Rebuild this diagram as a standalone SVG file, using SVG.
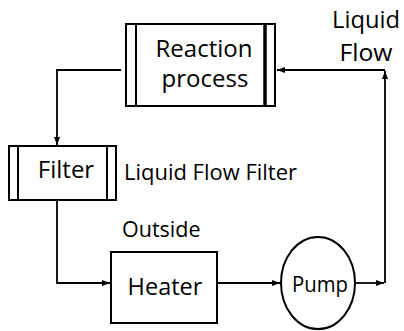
<svg xmlns="http://www.w3.org/2000/svg" width="404" height="331" viewBox="0 0 404 331">
<defs>
<style>
.box{fill:#fff;stroke:#000;stroke-width:2}
.ln{fill:none;stroke:#000;stroke-width:2}
.thick{fill:none;stroke:#000;stroke-width:3.5}
.con{fill:none;stroke:#000;stroke-width:1.8;marker-end:url(#ah)}
text{font-family:"Open Sans","Liberation Sans",sans-serif;fill:#000}
</style>
<marker id="ah" viewBox="0 0 8 6" refX="8" refY="3" markerWidth="8" markerHeight="6" markerUnits="userSpaceOnUse" orient="auto">
<path d="M0,0 L8,3 L0,6 z" fill="#000"/>
</marker>
</defs>
<rect width="404" height="331" fill="#fff"/>
<g id="connectors">
<path class="con" d="M121,70 H57 V145"/>
<path class="con" d="M57,200 V283 H110"/>
<path class="con" d="M217,283 H280"/>
<path class="con" d="M355,283 H384"/>
<path class="con" d="M385,283 V71"/>
<path class="con" d="M385,70 H277"/>
</g>
<g id="reaction">
<rect class="box" x="126" y="24" width="149" height="82"/>
<line class="ln" x1="136" y1="24" x2="136" y2="106"/>
<line class="thick" x1="265" y1="24" x2="265" y2="106"/>
<text x="204" y="57" font-size="24" text-anchor="middle">Reaction</text>
<text x="205" y="87" font-size="24" text-anchor="middle">process</text>
</g>
<g id="filter">
<rect class="box" x="9" y="146" width="107" height="54"/>
<line class="ln" x1="18" y1="146" x2="18" y2="200"/>
<line class="ln" x1="107" y1="146" x2="107" y2="200"/>
<text x="66" y="178" font-size="24" text-anchor="middle">Filter</text>
</g>
<g id="heater">
<rect class="box" x="111" y="252" width="106" height="71"/>
<text x="165" y="295" font-size="23.5" text-anchor="middle">Heater</text>
</g>
<g id="pump">
<ellipse class="box" cx="318" cy="283" rx="37" ry="46"/>
<text x="320" y="292" font-size="21" text-anchor="middle" textLength="56" lengthAdjust="spacingAndGlyphs">Pump</text>
</g>
<g id="labels">
<text x="124" y="180" font-size="22" textLength="173" lengthAdjust="spacingAndGlyphs">Liquid Flow Filter</text>
<text x="122" y="237" font-size="21.5">Outside</text>
<text x="366" y="28" font-size="23.5" text-anchor="middle" textLength="68" lengthAdjust="spacingAndGlyphs">Liquid</text>
<text x="366" y="61" font-size="23.5" text-anchor="middle" textLength="53" lengthAdjust="spacingAndGlyphs">Flow</text>
</g>
</svg>
